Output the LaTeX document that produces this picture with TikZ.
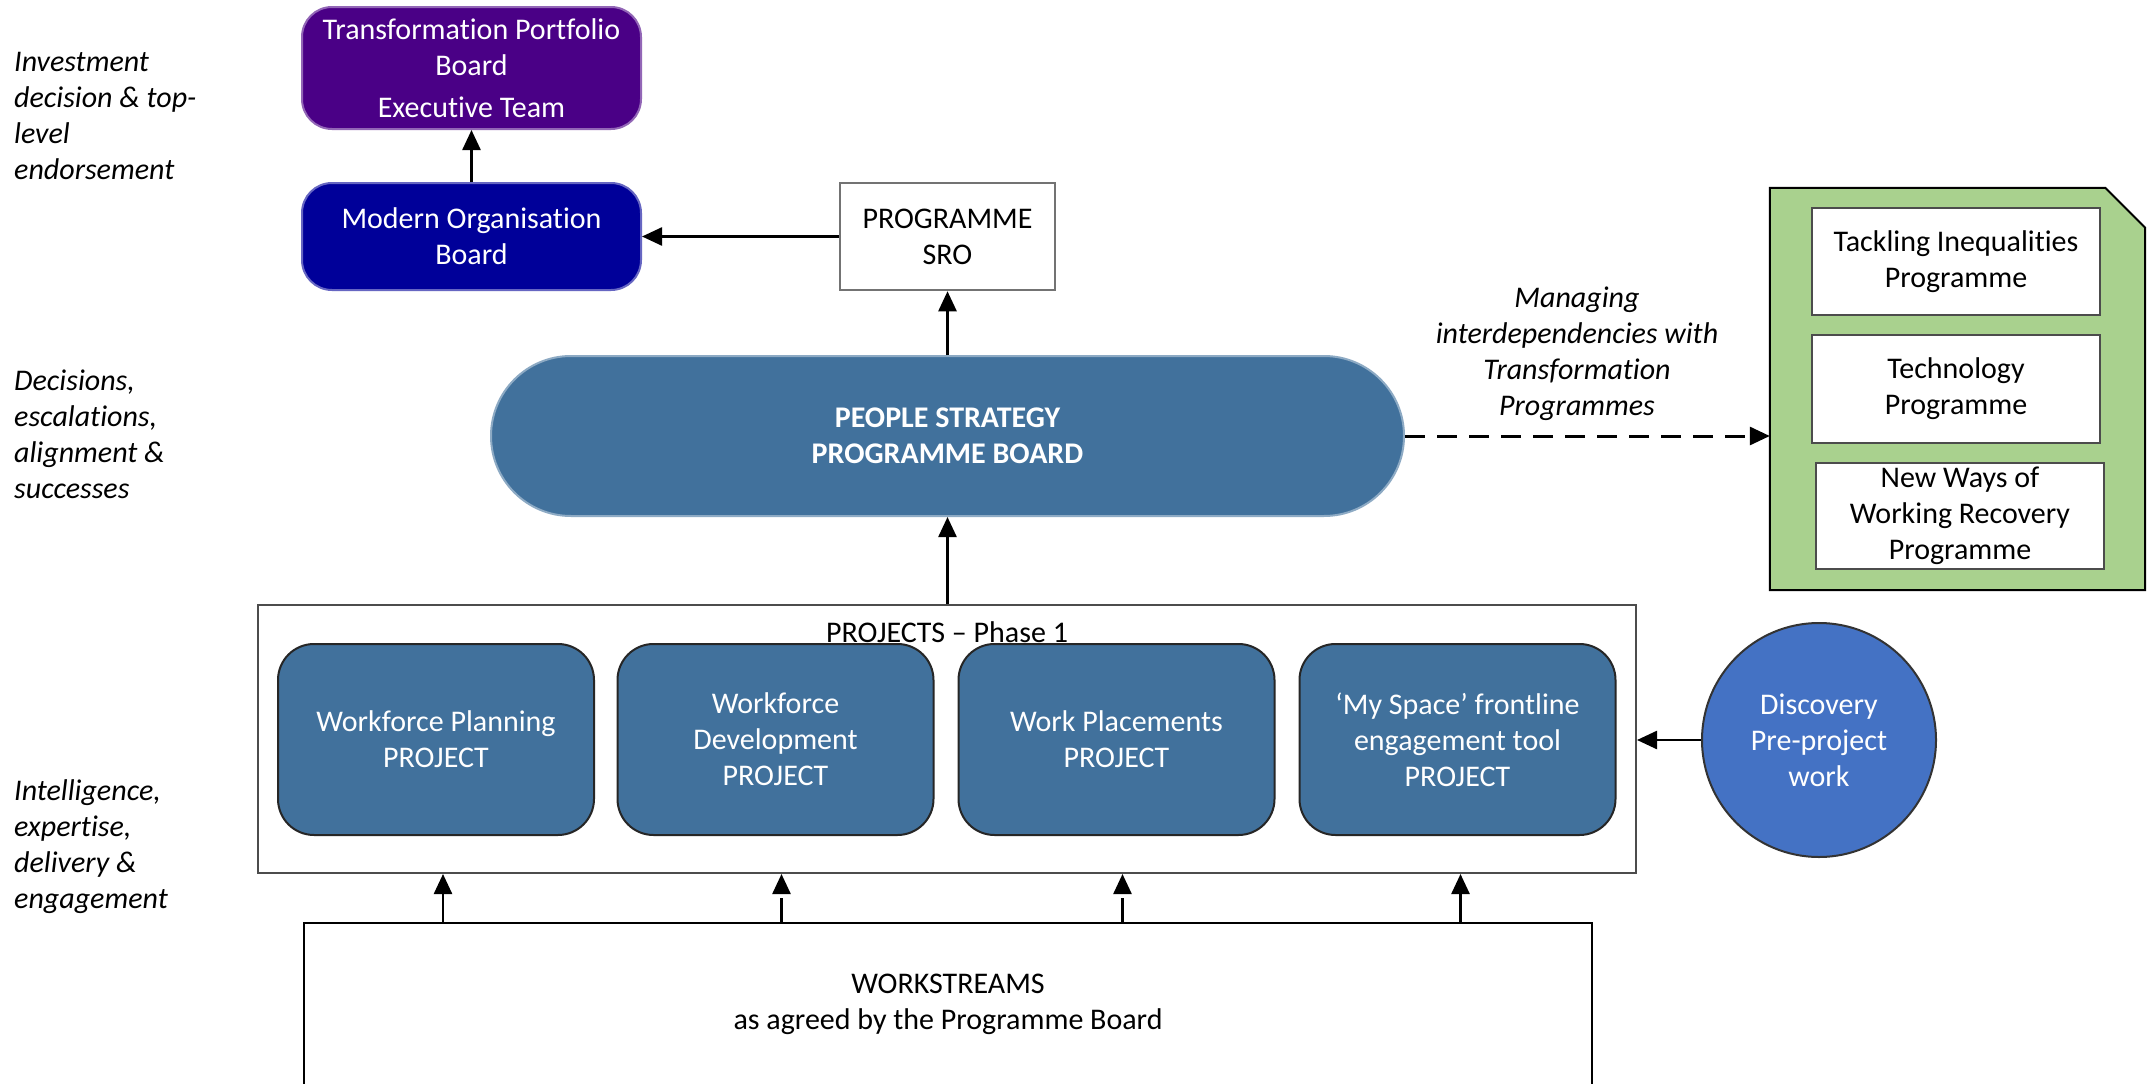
\documentclass[tikz,border=0pt]{standalone}
\usepackage{fontspec}
\setmainfont{Carlito}[Ligatures={NoCommon}]
\usetikzlibrary{arrows.meta,calc,shapes.geometric}
\definecolor{tpurple}{RGB}{74,0,134}
\definecolor{mblue}{RGB}{0,0,153}
\definecolor{steel}{RGB}{65,113,156}
\definecolor{disc}{RGB}{68,114,196}
\definecolor{lgreen}{RGB}{169,209,142}
\tikzset{
  base/.style={font=\fontsize{30}{36}\selectfont, align=center, inner sep=0pt},
  topbox/.style={base, text=white, rounded corners=30pt, line width=2pt, minimum width=339pt},
  whitebox/.style={base, draw=black!55, fill=white, line width=2.5pt},
  projbox/.style={base, text=white, fill=steel, draw=black!85, line width=2pt, rounded corners=36pt, minimum width=316pt, minimum height=191pt},
  sidelabel/.style={base, font=\fontsize{30}{36}\selectfont\itshape, align=left, anchor=west},
  arr/.style={line width=2.5pt, -{Triangle[length=20pt,width=18pt]}},
}
\begin{document}
\begin{tikzpicture}[x=1pt,y=-1pt]
\useasboundingbox[fill=white] (0,0) rectangle (2156,1084);

% left labels
\node[sidelabel] (l1) at (14,115.5) {Investment\\decision \& top-\\level\\endorsement};
\node[sidelabel] (l2) at (14,434.5) {Decisions,\\escalations,\\alignment \&\\successes};
\node[sidelabel] (l3) at (14,847) {Intelligence,\\expertise,\\delivery \&\\engagement};

% top boxes
\node[topbox, fill=tpurple, draw=tpurple!60!white, minimum height=122pt] (tpb) at (471.5,68) {Transformation Portfolio\\Board\\[6pt]Executive Team};
\node[topbox, fill=mblue, draw=mblue!60!white, minimum height=107pt] (mob) at (471.5,236.5) {Modern Organisation\\Board};
\node[whitebox, minimum width=215pt, minimum height=107pt] (sro) at (947.5,236.5) {PROGRAMME\\SRO};

% programme board
\node[base, text=white, font=\fontsize{30}{36}\selectfont\bfseries, fill=steel, draw=steel!60!white, line width=2pt, rounded corners=80pt, minimum width=913pt, minimum height=160pt] (psb) at (947.5,436) {PEOPLE STRATEGY\\PROGRAMME BOARD};

% green group
\node[base, minimum width=375pt, minimum height=402pt] (grp) at (1957.5,389) {};
\draw[fill=lgreen, draw=black, line width=2pt] (grp.south west) -- (grp.north west) -- ([xshift=-40pt]grp.north east) -- ([yshift=-40pt]grp.north east) -- (grp.south east) -- cycle;
\node[whitebox, draw=black!70, minimum width=288pt, minimum height=107pt] (tack) at (1956,261.5) {Tackling Inequalities\\Programme};
\node[whitebox, draw=black!70, minimum width=288pt, minimum height=108pt] (tech) at (1956,389) {Technology\\Programme};
\node[whitebox, draw=black!70, minimum width=288pt, minimum height=106pt] (nwow) at (1960,516) {New Ways of\\Working Recovery\\Programme};

\node[base, font=\fontsize{30}{36}\selectfont\itshape] (mlab) at (1577,354) {Managing\\interdependencies with\\Transformation\\Programmes};

% projects container
\node[whitebox, draw=black!70, line width=2pt, minimum width=1378pt, minimum height=268pt] (cont) at (947,739) {};
\node[base] (ptitle) at (947,632) {PROJECTS -- Phase 1};
\node[projbox] (p1) at (436,739.5) {Workforce Planning\\PROJECT};
\node[projbox] (p2) at (775.5,739.5) {Workforce\\Development\\PROJECT};
\node[projbox] (p3) at (1116.5,739.5) {Work Placements\\PROJECT};
\node[projbox] (p4) at (1457.5,739.5) {‘My Space’ frontline\\engagement tool\\PROJECT};

\node[base, circle, fill=disc, draw=black!80, line width=2pt, text=white, minimum size=234pt] (dis) at (1819,740) {Discovery\\Pre-project\\work};

% workstreams
\node[whitebox, draw=black, line width=2pt, minimum width=1288pt, minimum height=162pt] (ws) at (948,1004) {WORKSTREAMS\\as agreed by the Programme Board};

% connectors
\draw[arr] (mob.north) -- (tpb.south);
\draw[arr] (sro.west) -- (mob.east);
\draw[arr] (psb.north -| sro.south) -- (sro.south);
\draw[arr] (cont.north -| psb.south) -- (psb.south);
\draw[arr, line width=3pt, dash pattern=on 20pt off 12pt] (psb.east) -- (grp.west |- psb.east);
\draw[arr] (dis.west) -- (cont.east |- dis.west);
\draw[arr] ($(ws.north -| p1)+(7,0)$) -- ($(cont.south -| p1)+(7,0)$);
\draw[arr, dash pattern=on 24pt off 6pt] ($(ws.north -| p2)+(6,0)$) -- ($(cont.south -| p2)+(6,0)$);
\draw[arr, dash pattern=on 24pt off 6pt] ($(ws.north -| p3)+(6,0)$) -- ($(cont.south -| p3)+(6,0)$);
\draw[arr] ($(ws.north -| p4)+(3,0)$) -- ($(cont.south -| p4)+(3,0)$);
\end{tikzpicture}
\end{document}
